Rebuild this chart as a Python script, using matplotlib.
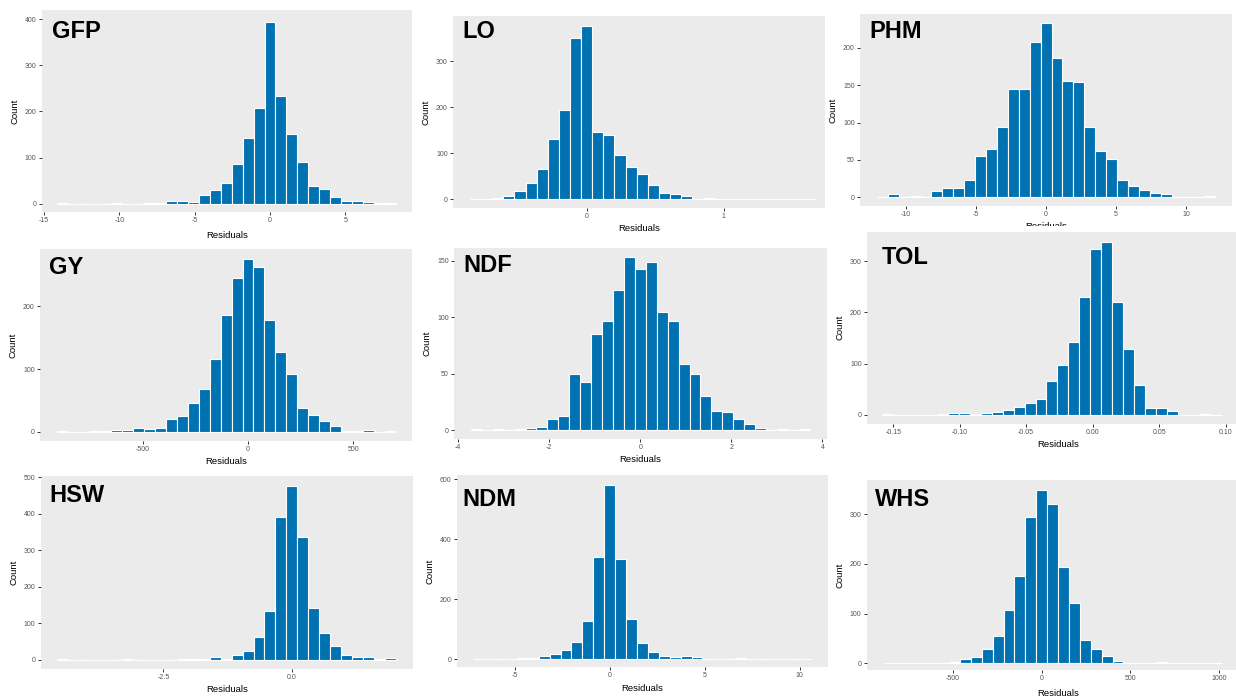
import numpy as np
import matplotlib
matplotlib.use('Agg')
import matplotlib.pyplot as plt
from matplotlib.patches import Rectangle

plt.rcParams['font.family'] = ['Liberation Sans', 'DejaVu Sans']
plt.rcParams['axes.unicode_minus'] = False

W, H = 1236, 697

# ---------------- data (counts per histogram bin) ----------------
panel_names = ['GFP', 'LO', 'PHM', 'GY', 'NDF', 'TOL', 'HSW', 'NDM', 'WHS']

gfp_counts = [1, 0, 0, 0, 0, 1, 0, 0, 2, 1, 5, 6, 4, 18, 30, 45, 85, 143, 207, 394,
              233, 151, 91, 38, 31, 14, 5, 5, 3, 1, 1]
gfp_bin_width = 0.7257
gfp_first_center = -13.79

lo_counts = [1, 1, 3, 8, 18, 36, 66, 132, 194, 351, 378, 146, 140, 97, 71, 56, 31, 13,
             11, 8, 1, 3, 1, 0, 1, 1, 0, 0, 0, 0, 1]
lo_bin_width = 0.0812
lo_first_center = -0.812

phm_counts = [1, 4, 0, 2, 0, 8, 12, 12, 23, 56, 65, 94, 145, 145, 208, 233, 187, 156,
              154, 94, 62, 52, 23, 15, 10, 6, 5, 1, 0, 0, 2]
phm_bin_width = 0.7796
phm_first_center = -11.69

gy_counts = [1, 0, 0, 1, 1, 3, 3, 7, 4, 7, 21, 25, 46, 68, 116, 185, 244, 275, 262, 178,
             127, 92, 38, 27, 18, 10, 2, 1, 3, 0, 1]
gy_bin_width = 51.9
gy_first_center = -882.3

ndf_counts = [1, 0, 1, 0, 1, 2, 3, 10, 13, 50, 43, 85, 97, 124, 153, 143, 149, 105, 97,
              59, 50, 30, 17, 16, 10, 6, 2, 0, 1, 0, 1]
ndf_bin_width = 0.2401
ndf_first_center = -3.60

tol_counts = [2, 0, 0, 0, 0, 1, 3, 4, 1, 3, 5, 10, 16, 22, 31, 66, 97, 142, 231, 325,
              337, 221, 129, 58, 13, 13, 7, 0, 0, 1, 0]
tol_bin_width = 0.00823
tol_first_center = -0.1541

hsw_counts = [1, 0, 0, 0, 0, 0, 1, 0, 0, 0, 0, 1, 2, 2, 7, 1, 12, 23, 62, 133, 390, 475,
              335, 142, 73, 38, 14, 7, 7, 1, 5]
hsw_bin_width = 0.2128
hsw_first_center = -4.469

ndm_counts = [1, 1, 1, 1, 3, 3, 11, 16, 30, 58, 127, 342, 580, 334, 133, 55, 23, 11, 6,
              10, 6, 1, 1, 0, 2, 1, 0, 0, 0, 0, 1]
ndm_bin_width = 0.5744
ndm_first_center = -6.893

whs_counts = [1, 0, 0, 0, 1, 1, 3, 8, 12, 29, 54, 107, 176, 294, 348, 320, 193, 121, 47,
              29, 14, 4, 1, 0, 1, 3, 1, 0, 0, 0, 1]
whs_bin_width = 61.5
whs_first_center = -861.0

gfp_xticks = [-15, -10, -5, 0, 5]
lo_xticks = [0, 1]
phm_xticks = [-10, -5, 0, 5, 10]
gy_xticks = [-500, 0, 500]
ndf_xticks = [-4, -2, 0, 2, 4]
tol_xticks = [-0.15, -0.10, -0.05, 0.00, 0.05, 0.10]
hsw_xticks = [-2.5, 0.0]
ndm_xticks = [-5, 0, 5, 10]
whs_xticks = [-500, 0, 500, 1000]

gfp_yticks = [0, 100, 200, 300, 400]
lo_yticks = [0, 100, 200, 300]
phm_yticks = [0, 50, 100, 150, 200]
gy_yticks = [0, 100, 200]
ndf_yticks = [0, 50, 100, 150]
tol_yticks = [0, 100, 200, 300]
hsw_yticks = [0, 100, 200, 300, 400, 500]
ndm_yticks = [0, 200, 400, 600]
whs_yticks = [0, 100, 200, 300]

# ---------------- layout (pixel boxes: left, top, right, bottom) ----------------
layout = {
    'GFP': dict(box=(41.7, 10, 412, 212), xlim=(-15.15, 9.42), ylim=(-18, 419.5),
                fmt='{:g}', title_off=(10, 22), xlab_off=24),
    'LO':  dict(box=(453, 16, 825, 208), xlim=(-0.976, 1.74), ylim=(-19, 399),
                fmt='{:g}', title_off=(9, 16), xlab_off=21),
    'PHM': dict(box=(860, 14, 1232, 206), xlim=(-13.29, 13.29), ylim=(-11.6, 245.5),
                fmt='{:g}', title_off=(9, 17), xlab_off=20.6),
    'GY':  dict(box=(40, 249.5, 412, 440.5), xlim=(-987, 778), ylim=(-13.5, 289.7),
                fmt='{:g}', title_off=(9, 18), xlab_off=21.5),
    'NDF': dict(box=(454, 247.5, 827, 439), xlim=(-4.09, 4.1), ylim=(-7.7, 161.8),
                fmt='{:g}', title_off=(9, 17.5), xlab_off=21),
    'TOL': dict(box=(867, 231.7, 1250, 423.7), xlim=(-0.1697, 0.1183), ylim=(-17.6, 358),
                fmt='{:.2f}', title_off=(15, 26), xlab_off=21),
    'HSW': dict(box=(40.7, 476, 413, 668.7), xlim=(-4.89, 2.36), ylim=(-24.6, 502.8),
                fmt='{:.1f}', title_off=(9, 19), xlab_off=21),
    'NDM': dict(box=(456.7, 475, 828, 667), xlim=(-8.05, 11.49), ylim=(-26.7, 614.8),
                fmt='{:g}', title_off=(6, 24), xlab_off=21.7),
    'WHS': dict(box=(866.7, 480, 1250, 670), xlim=(-987, 1175), ylim=(-13.4, 368.4),
                fmt='{:g}', title_off=(8, 19), xlab_off=23.5),
}

data = {
    'GFP': (gfp_counts, gfp_bin_width, gfp_first_center, gfp_xticks, gfp_yticks),
    'LO': (lo_counts, lo_bin_width, lo_first_center, lo_xticks, lo_yticks),
    'PHM': (phm_counts, phm_bin_width, phm_first_center, phm_xticks, phm_yticks),
    'GY': (gy_counts, gy_bin_width, gy_first_center, gy_xticks, gy_yticks),
    'NDF': (ndf_counts, ndf_bin_width, ndf_first_center, ndf_xticks, ndf_yticks),
    'TOL': (tol_counts, tol_bin_width, tol_first_center, tol_xticks, tol_yticks),
    'HSW': (hsw_counts, hsw_bin_width, hsw_first_center, hsw_xticks, hsw_yticks),
    'NDM': (ndm_counts, ndm_bin_width, ndm_first_center, ndm_xticks, ndm_yticks),
    'WHS': (whs_counts, whs_bin_width, whs_first_center, whs_xticks, whs_yticks),
}

BAR = '#0072B2'
PANEL = '#EBEBEB'

fig = plt.figure(figsize=(W / 100, H / 100), dpi=100)
fig.patch.set_facecolor('white')

for name in panel_names:
    counts, w, c0, xt, yt = data[name]
    L = layout[name]
    l, t, r, b = L['box']
    wpx, hpx = r - l, b - t
    ax = fig.add_axes([l / W, 1 - b / H, wpx / W, hpx / H])
    ax.set_facecolor(PANEL)
    for s in ax.spines.values():
        s.set_visible(False)
    centers = c0 + w * np.arange(len(counts))
    ax.bar(centers, counts, width=w, color=BAR, edgecolor='white', linewidth=0.8,
           align='center')
    ax.set_xlim(*L['xlim'])
    ax.set_ylim(*L['ylim'])
    ax.set_xticks(xt)
    ax.set_xticklabels([L['fmt'].format(v) for v in xt])
    ax.set_yticks(yt)
    ax.set_yticklabels([str(v) for v in yt])
    ax.tick_params(axis='both', length=2.0, width=0.7, color='#333333',
                   labelsize=5.0, labelcolor='#555555', pad=1.8)
    ax.set_xlabel('Residuals', fontsize=6.8, color='black')
    ax.set_ylabel('Count', fontsize=6.8, color='black')
    ax.xaxis.set_label_coords(0.5, -L['xlab_off'] / hpx)
    ax.xaxis.label.set_va('center')
    ax.yaxis.set_label_coords(-27 / wpx, 0.5)
    ax.yaxis.label.set_va('center')
    tx, ty = L['title_off']
    ax.text(tx / wpx, 1 - ty / hpx, name, transform=ax.transAxes, fontsize=17,
            fontweight='bold', ha='left', va='center', color='black')

# white overlap from the neighbouring picture hiding the PHM axis title
fig.patches.append(Rectangle((866 / W, 1 - 231.5 / H), (W - 866) / W, 5.5 / H,
                             transform=fig.transFigure, facecolor='white',
                             edgecolor='none', zorder=5))

fig.savefig('out.png', dpi=100, facecolor='white')
